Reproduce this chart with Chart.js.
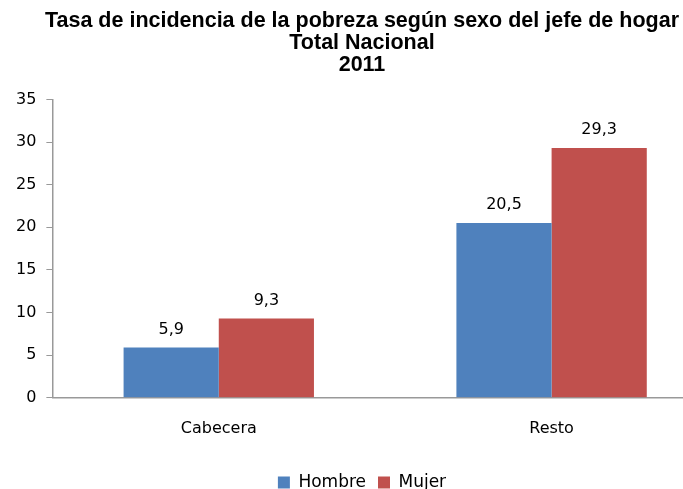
<!DOCTYPE html>
<html>
<head>
<meta charset="utf-8">
<script src="https://cdn.jsdelivr.net/npm/chart.js@4"></script>
<style>
html,body{margin:0;padding:0;background:#fff;overflow:hidden;width:683px;height:489px;}
#wrap{width:683px;height:489px;overflow:hidden;}
</style>
</head>
<body>
<div id="wrap"><canvas id="c" width="726" height="501"></canvas></div>
<script>
const categories = ["Cabecera", "Resto"];
const hombre = [5.9, 20.5];
const mujer = [9.3, 29.3];
const seriesNames = ["Hombre", "Mujer"];
const titleLines = ["Tasa de incidencia de la pobreza según sexo del jefe de hogar", "Total Nacional", "2011"];

const FONT = '"DejaVu Sans", "Open Sans", sans-serif';

const labelPlugin = {
  id: 'barLabels',
  afterDatasetsDraw(chart) {
    const ctx = chart.ctx;
    ctx.save();
    ctx.font = '16px ' + FONT;
    ctx.fillStyle = '#000';
    ctx.textAlign = 'center';
    ctx.textBaseline = 'bottom';
    chart.data.datasets.forEach((ds, i) => {
      chart.getDatasetMeta(i).data.forEach((el, j) => {
        ctx.fillText(String(ds.data[j]).replace('.', ','), el.x, el.y - 10);
      });
    });
    ctx.restore();
  }
};

new Chart(document.getElementById('c'), {
  type: 'bar',
  data: {
    labels: categories,
    datasets: [
      { label: seriesNames[0], data: hombre, backgroundColor: '#4F81BD' },
      { label: seriesNames[1], data: mujer, backgroundColor: '#C0504D' }
    ]
  },
  options: {
    responsive: false,
    animation: false,
    devicePixelRatio: 1,
    layout: { padding: { left: 6, right: 8, top: 0, bottom: 0 } },
    datasets: { bar: { categoryPercentage: 0.572, barPercentage: 1.0 } },
    plugins: {
      title: {
        display: true,
        text: titleLines,
        color: '#000',
        font: { family: '"Liberation Sans", Arial, sans-serif', size: 21.5, weight: 'bold', lineHeight: 1.03 },
        padding: { top: 10, bottom: 23 }
      },
      legend: {
        position: 'bottom',
        labels: {
          color: '#000',
          boxWidth: 12, boxHeight: 12,
          padding: 12,
          font: { family: FONT, size: 17 }
        }
      },
      tooltip: { enabled: false }
    },
    scales: {
      x: {
        grid: { drawOnChartArea: false, drawTicks: false },
        border: { color: '#999', width: 1.5 },
        ticks: { color: '#000', padding: 21, font: { family: FONT, size: 16 } },
        afterFit(scale) { scale.height += 3; }
      },
      y: {
        min: 0, max: 35,
        grid: { drawOnChartArea: false, drawTicks: true, tickLength: 6, color: '#999' },
        border: { color: '#999', width: 1.5 },
        ticks: { stepSize: 5, color: '#000', padding: 10, font: { family: FONT, size: 16 } }
      }
    }
  },
  plugins: [labelPlugin]
});
</script>
</body>
</html>
